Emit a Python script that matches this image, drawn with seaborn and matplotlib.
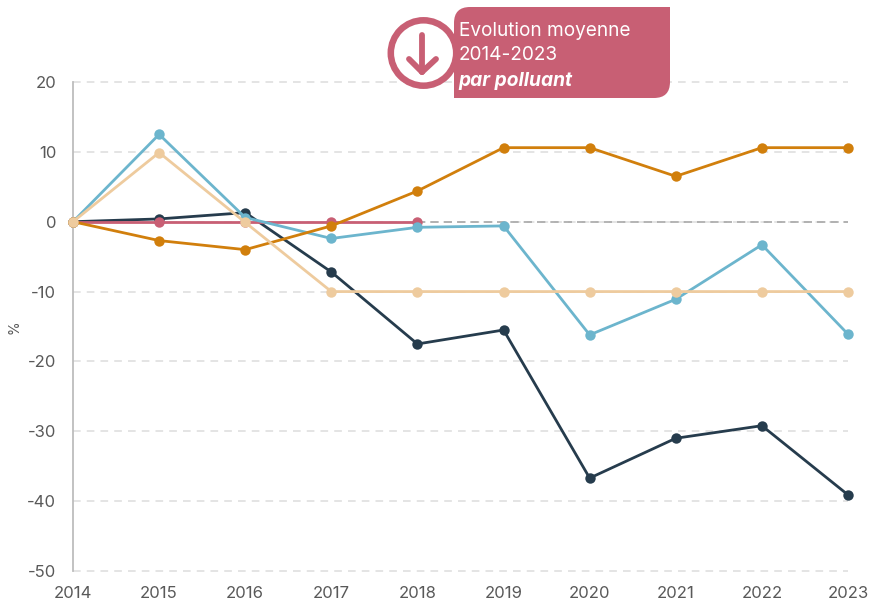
import matplotlib
matplotlib.use("Agg")
import matplotlib.pyplot as plt
from matplotlib.patches import PathPatch, Circle
from matplotlib.path import Path
from matplotlib.lines import Line2D
from matplotlib.transforms import Affine2D
import pandas as pd
import seaborn as sns

years = [2014, 2015, 2016, 2017, 2018, 2019, 2020, 2021, 2022, 2023]
dark = [0, 0.4, 1.3, -7.2, -17.5, -15.5, -36.7, -31.0, -29.2, -39.1]
blue = [0, 12.5, 0.6, -2.4, -0.8, -0.6, -16.2, -11.1, -3.3, -16.1]
orange = [0, -2.7, -4.0, -0.6, 4.4, 10.6, 10.6, 6.5, 10.6, 10.6]
beige = [0, 9.9, -0.1, -10, -10, -10, -10, -10, -10, -10]
pink = [0, 0, 0, 0, 0]
yticks = [20, 10, 0, -10, -20, -30, -40, -50]

series = {"dark": dark, "pink": pink, "blue": blue, "orange": orange, "beige": beige}
palette = {"dark": "#263c4d", "pink": "#c85f74", "blue": "#6cb5cd",
           "orange": "#d17f0c", "beige": "#eecb9e"}
df = pd.concat([pd.DataFrame({"year": years[:len(v)], "value": v, "s": k})
                for k, v in series.items()])

sns.set_theme(style="white")
plt.rcParams["font.family"] = ["Inter", "DejaVu Sans"]
plt.rcParams["axes.unicode_minus"] = False
W, H = 872, 600
fig = plt.figure(figsize=(W / 100, H / 100), dpi=100, facecolor="white")
ax = fig.add_axes([73 / W, 1 - 571 / H, (848 - 73) / W, (571 - 82) / H])

for y in yticks:
    ax.axhline(y, color="#dcdcdc", lw=1.1, dashes=(5, 4), zorder=1, clip_on=False)
ax.plot([2018, 2023], [0, 0], color="#a8a8a8", lw=1.2, dashes=(5, 3), zorder=1.5, clip_on=False)

sns.lineplot(data=df, x="year", y="value", hue="s", hue_order=list(series), palette=palette,
             marker="o", markersize=7.5, markeredgewidth=0, linewidth=2.0,
             legend=False, ax=ax, clip_on=False, zorder=3, errorbar=None)

ax.set_xlim(2014, 2023)
ax.set_ylim(-50, 20)
ax.set_xticks(years)
ax.set_yticks(yticks)
ax.set_xlabel("")
ax.set_ylabel("%", fontsize=10, color="#595959")
ax.yaxis.set_label_coords((21 - 73) / 775, (571 - 327) / 489)
ax.tick_params(axis="both", length=0, labelsize=12, labelcolor="#595959")
ax.tick_params(axis="x", pad=11)
ax.tick_params(axis="y", pad=12)
for s in ["top", "right", "bottom"]:
    ax.spines[s].set_visible(False)
ax.spines["left"].set_color("#bdbdbd")
ax.spines["left"].set_linewidth(1.3)

# Callout, positioned in reference pixels
px = Affine2D().scale(1, -1).translate(0, H)
c = "#c85f74"
x0, x1, y0, y1, r = 454, 670, 7, 98, 16
verts = [(x0 + r, y0), (x1, y0), (x1, y1 - r), (x1, y1), (x1 - r, y1), (x0, y1), (x0, y0 + r), (x0, y0), (x0 + r, y0), (x0 + r, y0)]
codes = [Path.MOVETO, Path.LINETO, Path.LINETO, Path.CURVE3, Path.CURVE3, Path.LINETO, Path.LINETO, Path.CURVE3, Path.CURVE3, Path.CLOSEPOLY]
fig.add_artist(Circle((423.5, 53), 32.7, fc="white", ec=c, lw=4.7, transform=px, zorder=4))
fig.add_artist(PathPatch(Path(verts, codes), fc=c, ec="none", transform=px, zorder=5))
for xs, ys in [((422, 422), (35, 72)), ((409, 422), (59, 72)), ((436, 422), (59, 72))]:
    fig.add_artist(Line2D(xs, ys, color=c, lw=4.2, solid_capstyle="round", transform=px, zorder=6))
for y, t, kw in [(30.5, "Evolution moyenne", {"fontsize": 13.7}), (55.5, "2014-2023", {"fontsize": 13.7}),
                 (80.5, "par polluant", {"fontsize": 13.8, "fontweight": "bold", "fontstyle": "italic"})]:
    fig.text(458.5 / W, 1 - y / H, t, color="white", va="center", ha="left", zorder=7, **kw)

fig.savefig("out.png", dpi=100)
